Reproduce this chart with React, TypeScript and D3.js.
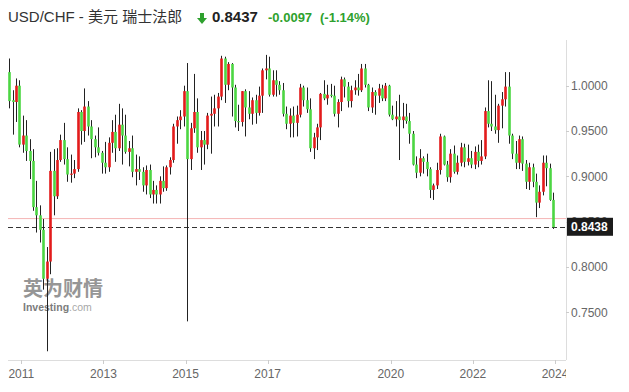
import React from 'react';
import * as d3 from 'd3';

// monthly USD/CHF candles, [open, high, low, close]
const y2010 = [
  [1.015, 1.030, 0.975, 0.983], [0.984, 0.995, 0.946, 0.982], [0.982, 1.008, 0.960, 1.000], [1.000, 1.006, 0.932, 0.935],
];
const y2011 = [
  [0.935, 0.967, 0.926, 0.945], [0.945, 0.962, 0.917, 0.928], [0.928, 0.941, 0.897, 0.917], [0.917, 0.930, 0.862, 0.866],
  [0.866, 0.895, 0.838, 0.857], [0.857, 0.868, 0.827, 0.841], [0.841, 0.853, 0.775, 0.787], [0.787, 0.822, 0.707, 0.806],
  [0.806, 0.927, 0.792, 0.906], [0.906, 0.930, 0.857, 0.878], [0.878, 0.931, 0.875, 0.918], [0.918, 0.946, 0.916, 0.940],
];
const y2012 = [
  [0.940, 0.959, 0.913, 0.919], [0.919, 0.932, 0.894, 0.902], [0.902, 0.924, 0.893, 0.903], [0.903, 0.918, 0.898, 0.908],
  [0.908, 0.975, 0.905, 0.971], [0.971, 0.973, 0.935, 0.950], [0.950, 0.997, 0.938, 0.977], [0.977, 0.983, 0.945, 0.955],
  [0.955, 0.962, 0.920, 0.941], [0.941, 0.945, 0.921, 0.932], [0.932, 0.954, 0.923, 0.926], [0.926, 0.928, 0.903, 0.915],
];
const y2013 = [
  [0.915, 0.938, 0.903, 0.910], [0.910, 0.943, 0.905, 0.937], [0.937, 0.962, 0.926, 0.949], [0.949, 0.968, 0.916, 0.931],
  [0.931, 0.980, 0.928, 0.957], [0.957, 0.975, 0.913, 0.945], [0.945, 0.968, 0.925, 0.927], [0.927, 0.939, 0.911, 0.931],
  [0.931, 0.945, 0.899, 0.905], [0.905, 0.924, 0.890, 0.908], [0.908, 0.922, 0.896, 0.905], [0.905, 0.910, 0.883, 0.890],
];
const y2014 = [
  [0.890, 0.912, 0.880, 0.907], [0.907, 0.913, 0.876, 0.880], [0.880, 0.895, 0.870, 0.885], [0.885, 0.890, 0.870, 0.880],
  [0.880, 0.900, 0.870, 0.895], [0.895, 0.911, 0.883, 0.887], [0.887, 0.912, 0.884, 0.910], [0.910, 0.921, 0.902, 0.918],
  [0.918, 0.958, 0.915, 0.955], [0.955, 0.966, 0.936, 0.962], [0.962, 0.973, 0.952, 0.966], [0.966, 1.000, 0.955, 0.994],
];
const y2015 = [
  [0.994, 1.025, 0.740, 0.919], [0.919, 0.959, 0.907, 0.953], [0.953, 1.013, 0.948, 0.971], [0.971, 0.986, 0.926, 0.932],
  [0.932, 0.950, 0.907, 0.940], [0.940, 0.950, 0.913, 0.935], [0.935, 0.970, 0.930, 0.967], [0.967, 0.988, 0.925, 0.969],
  [0.969, 0.990, 0.955, 0.975], [0.975, 0.992, 0.955, 0.988], [0.988, 1.033, 0.984, 1.030], [1.030, 1.032, 0.981, 1.001],
];
const y2016 = [
  [1.001, 1.026, 0.995, 1.024], [1.024, 1.025, 0.966, 0.998], [0.998, 1.001, 0.954, 0.961], [0.961, 0.979, 0.950, 0.960],
  [0.960, 0.994, 0.955, 0.994], [0.994, 0.996, 0.944, 0.976], [0.976, 0.994, 0.963, 0.969], [0.969, 0.987, 0.957, 0.984],
  [0.984, 0.990, 0.958, 0.970], [0.970, 0.999, 0.967, 0.989], [0.989, 1.019, 0.970, 1.017], [1.017, 1.034, 1.007, 1.019],
];
const y2017 = [
  [1.019, 1.032, 0.988, 0.990], [0.990, 1.017, 0.988, 1.006], [1.006, 1.017, 0.988, 1.001], [1.001, 1.005, 0.990, 0.995],
  [0.995, 1.003, 0.966, 0.969], [0.969, 0.977, 0.952, 0.958], [0.958, 0.975, 0.943, 0.967], [0.967, 0.977, 0.943, 0.959],
  [0.959, 0.978, 0.944, 0.968], [0.968, 1.002, 0.965, 0.998], [0.998, 1.000, 0.977, 0.984], [0.984, 0.998, 0.970, 0.974],
];
const y2018 = [
  [0.974, 0.986, 0.927, 0.931], [0.931, 0.948, 0.919, 0.943], [0.943, 0.958, 0.929, 0.954], [0.954, 0.992, 0.940, 0.991],
  [0.991, 1.006, 0.984, 0.986], [0.986, 1.001, 0.979, 0.990], [0.990, 1.002, 0.987, 0.989], [0.989, 1.000, 0.966, 0.969],
  [0.969, 0.985, 0.954, 0.982], [0.982, 1.010, 0.972, 1.007], [1.007, 1.009, 0.987, 0.999], [0.999, 1.004, 0.976, 0.983],
];
const y2019 = [
  [0.983, 1.000, 0.976, 0.995], [0.995, 1.006, 0.990, 0.998], [0.998, 1.013, 0.989, 0.995], [0.995, 1.024, 0.993, 1.019],
  [1.019, 1.024, 0.998, 1.001], [1.001, 1.002, 0.972, 0.976], [0.976, 0.998, 0.970, 0.993], [0.993, 0.995, 0.968, 0.989],
  [0.989, 1.002, 0.981, 0.997], [0.997, 1.001, 0.983, 0.986], [0.986, 1.003, 0.983, 1.000], [1.000, 1.001, 0.966, 0.968],
];
const y2020 = [
  [0.968, 0.978, 0.962, 0.963], [0.963, 0.983, 0.955, 0.966], [0.966, 0.990, 0.918, 0.962], [0.962, 0.981, 0.953, 0.966],
  [0.966, 0.980, 0.958, 0.961], [0.961, 0.970, 0.936, 0.947], [0.947, 0.950, 0.912, 0.913], [0.913, 0.922, 0.898, 0.904],
  [0.904, 0.930, 0.900, 0.920], [0.920, 0.922, 0.903, 0.916], [0.916, 0.925, 0.900, 0.908], [0.908, 0.910, 0.876, 0.885],
];
const y2021 = [
  [0.885, 0.892, 0.874, 0.890], [0.890, 0.915, 0.886, 0.907], [0.907, 0.947, 0.902, 0.944], [0.944, 0.945, 0.912, 0.913],
  [0.913, 0.917, 0.894, 0.899], [0.899, 0.930, 0.893, 0.925], [0.925, 0.934, 0.903, 0.905], [0.905, 0.923, 0.902, 0.915],
  [0.915, 0.937, 0.911, 0.932], [0.932, 0.936, 0.910, 0.916], [0.916, 0.935, 0.912, 0.920], [0.920, 0.928, 0.909, 0.913],
];
const y2022 = [
  [0.913, 0.933, 0.908, 0.927], [0.927, 0.935, 0.910, 0.917], [0.917, 0.940, 0.913, 0.922], [0.922, 0.976, 0.919, 0.972],
  [0.972, 1.006, 0.954, 0.958], [0.958, 1.005, 0.950, 0.955], [0.955, 0.990, 0.947, 0.951], [0.951, 0.980, 0.937, 0.978],
  [0.978, 0.993, 0.953, 0.985], [0.985, 1.015, 0.977, 0.999], [0.999, 1.015, 0.936, 0.945], [0.945, 0.947, 0.919, 0.925],
];
const y2023 = [
  [0.925, 0.939, 0.908, 0.915], [0.915, 0.945, 0.908, 0.941], [0.941, 0.944, 0.906, 0.914], [0.914, 0.918, 0.886, 0.894],
  [0.894, 0.915, 0.885, 0.910], [0.910, 0.914, 0.888, 0.894], [0.894, 0.903, 0.855, 0.871], [0.871, 0.890, 0.865, 0.883],
  [0.883, 0.923, 0.879, 0.915], [0.915, 0.923, 0.889, 0.909], [0.909, 0.914, 0.873, 0.874], [0.874, 0.882, 0.842, 0.8438],
];

const yTicks = [0.75, 0.8, 0.85, 0.9, 0.95, 1.0];
const xTickYears = [2011, 2013, 2015, 2017, 2020, 2022, 2024];
const lastPrice = 0.8438;
const prevClose = 0.8534;

const GREEN = '#4cd643';
const RED = '#e31b1b';
const FONT = '"Liberation Sans", Arial, "Noto Sans CJK SC", sans-serif';

const start = new Date(2010, 8, 15);
const candles = [
  ...y2010, ...y2011, ...y2012, ...y2013, ...y2014, ...y2015, ...y2016,
  ...y2017, ...y2018, ...y2019, ...y2020, ...y2021, ...y2022, ...y2023,
].map((d, i) => ({ date: d3.timeMonth.offset(start, i), o: d[0], h: d[1], l: d[2], c: d[3] }));

export default function App() {
  const axisX = 566;
  const axisY = 360;
  const left = 8;

  const x = d3.scaleTime()
    .domain([new Date(2011, 0, 1), new Date(2024, 0, 1)])
    .range([21.3, 555]);
  const y = d3.scaleLinear().domain([0.75, 1.0]).range([312.3, 85.7]);
  const fmt = d3.format('.4f');
  const bw = 2.6;

  return (
    <svg width={629} height={392} style={{ position: 'absolute', left: 0, top: 0, background: '#fff' }}
      fontFamily={FONT}>
      <defs>
        <clipPath id="plot">
          <rect x={0} y={0} width={axisX} height={392} />
        </clipPath>
      </defs>

      {/* title */}
      <text x={8} y={22} fontSize={15} fill="#333">USD/CHF - 美元 瑞士法郎</text>
      <g transform="translate(202,19)" fill="#2ea12e">
        <rect x={-2} y={-6} width={4} height={5} />
        <path d="M-5,-1 L5,-1 L0,5 Z" />
      </g>
      <text x={212} y={22} fontSize={15} fontWeight="bold" fill="#222">0.8437</text>
      <text x={268} y={22} fontSize={13} fontWeight="bold" fill="#2ea12e">-0.0097</text>
      <text x={320} y={22} fontSize={13} fontWeight="bold" fill="#2ea12e">(-1.14%)</text>

      {/* watermark */}
      <text x={23} y={296} fontSize={20} fontWeight="bold" fill="#7d7d7d" opacity={0.8}>英为财情</text>
      <text x={23} y={311} fontSize={10.5} fontWeight="bold" fill="#666" opacity={0.85}>
        Investing<tspan fontWeight="normal" fill="#999">.com</tspan>
      </text>

      {/* axes */}
      <line x1={axisX + 0.5} x2={axisX + 0.5} y1={40} y2={axisY} stroke="#ddd" />
      <line x1={left} x2={axisX} y1={axisY + 0.5} y2={axisY + 0.5} stroke="#ddd" />
      {yTicks.map(t => (
        <g key={t}>
          <line x1={axisX} x2={axisX + 3} y1={Math.round(y(t)) + 0.5} y2={Math.round(y(t)) + 0.5} stroke="#ccc" />
          <text x={axisX + 5} y={y(t)} dy="0.35em" fontSize={12} fill="#666">{fmt(t)}</text>
        </g>
      ))}
      <g clipPath="url(#plot)">
        {xTickYears.map(yr => {
          const px = x(new Date(yr, 0, 1));
          return (
            <g key={yr}>
              <line x1={Math.round(px) + 0.5} x2={Math.round(px) + 0.5} y1={axisY} y2={axisY + 4} stroke="#ccc" />
              <text x={px} y={378} fontSize={12} fill="#666" textAnchor="middle">{yr}</text>
            </g>
          );
        })}
      </g>

      {/* previous close + last price lines */}
      <line x1={left} x2={axisX} y1={y(prevClose)} y2={y(prevClose)} stroke="#f5b5b5" />
      <line x1={left} x2={axisX} y1={Math.round(y(lastPrice)) + 0.5} y2={Math.round(y(lastPrice)) + 0.5}
        stroke="#333" strokeDasharray="5,3" />

      {/* candles */}
      <g>
        {candles.map((d, i) => {
          const cx = Math.round(x(d.date)) + 0.5;
          const up = d.c >= d.o;
          const top = y(Math.max(d.o, d.c));
          const bot = y(Math.min(d.o, d.c));
          return (
            <g key={i}>
              <line x1={cx} x2={cx} y1={y(d.h)} y2={y(d.l)} stroke="#222" strokeWidth={1} />
              <rect x={cx - bw / 2} y={top} width={bw} height={Math.max(1.2, bot - top)} fill={up ? RED : GREEN} />
            </g>
          );
        })}
      </g>

      {/* last price label */}
      <rect x={axisX + 1} y={y(lastPrice) - 9.5} width={46} height={18} fill="#1b1b1b" />
      <text x={axisX + 5} y={y(lastPrice)} dy="0.35em" fontSize={12} fontWeight="bold" fill="#fff">{fmt(lastPrice)}</text>
    </svg>
  );
}
